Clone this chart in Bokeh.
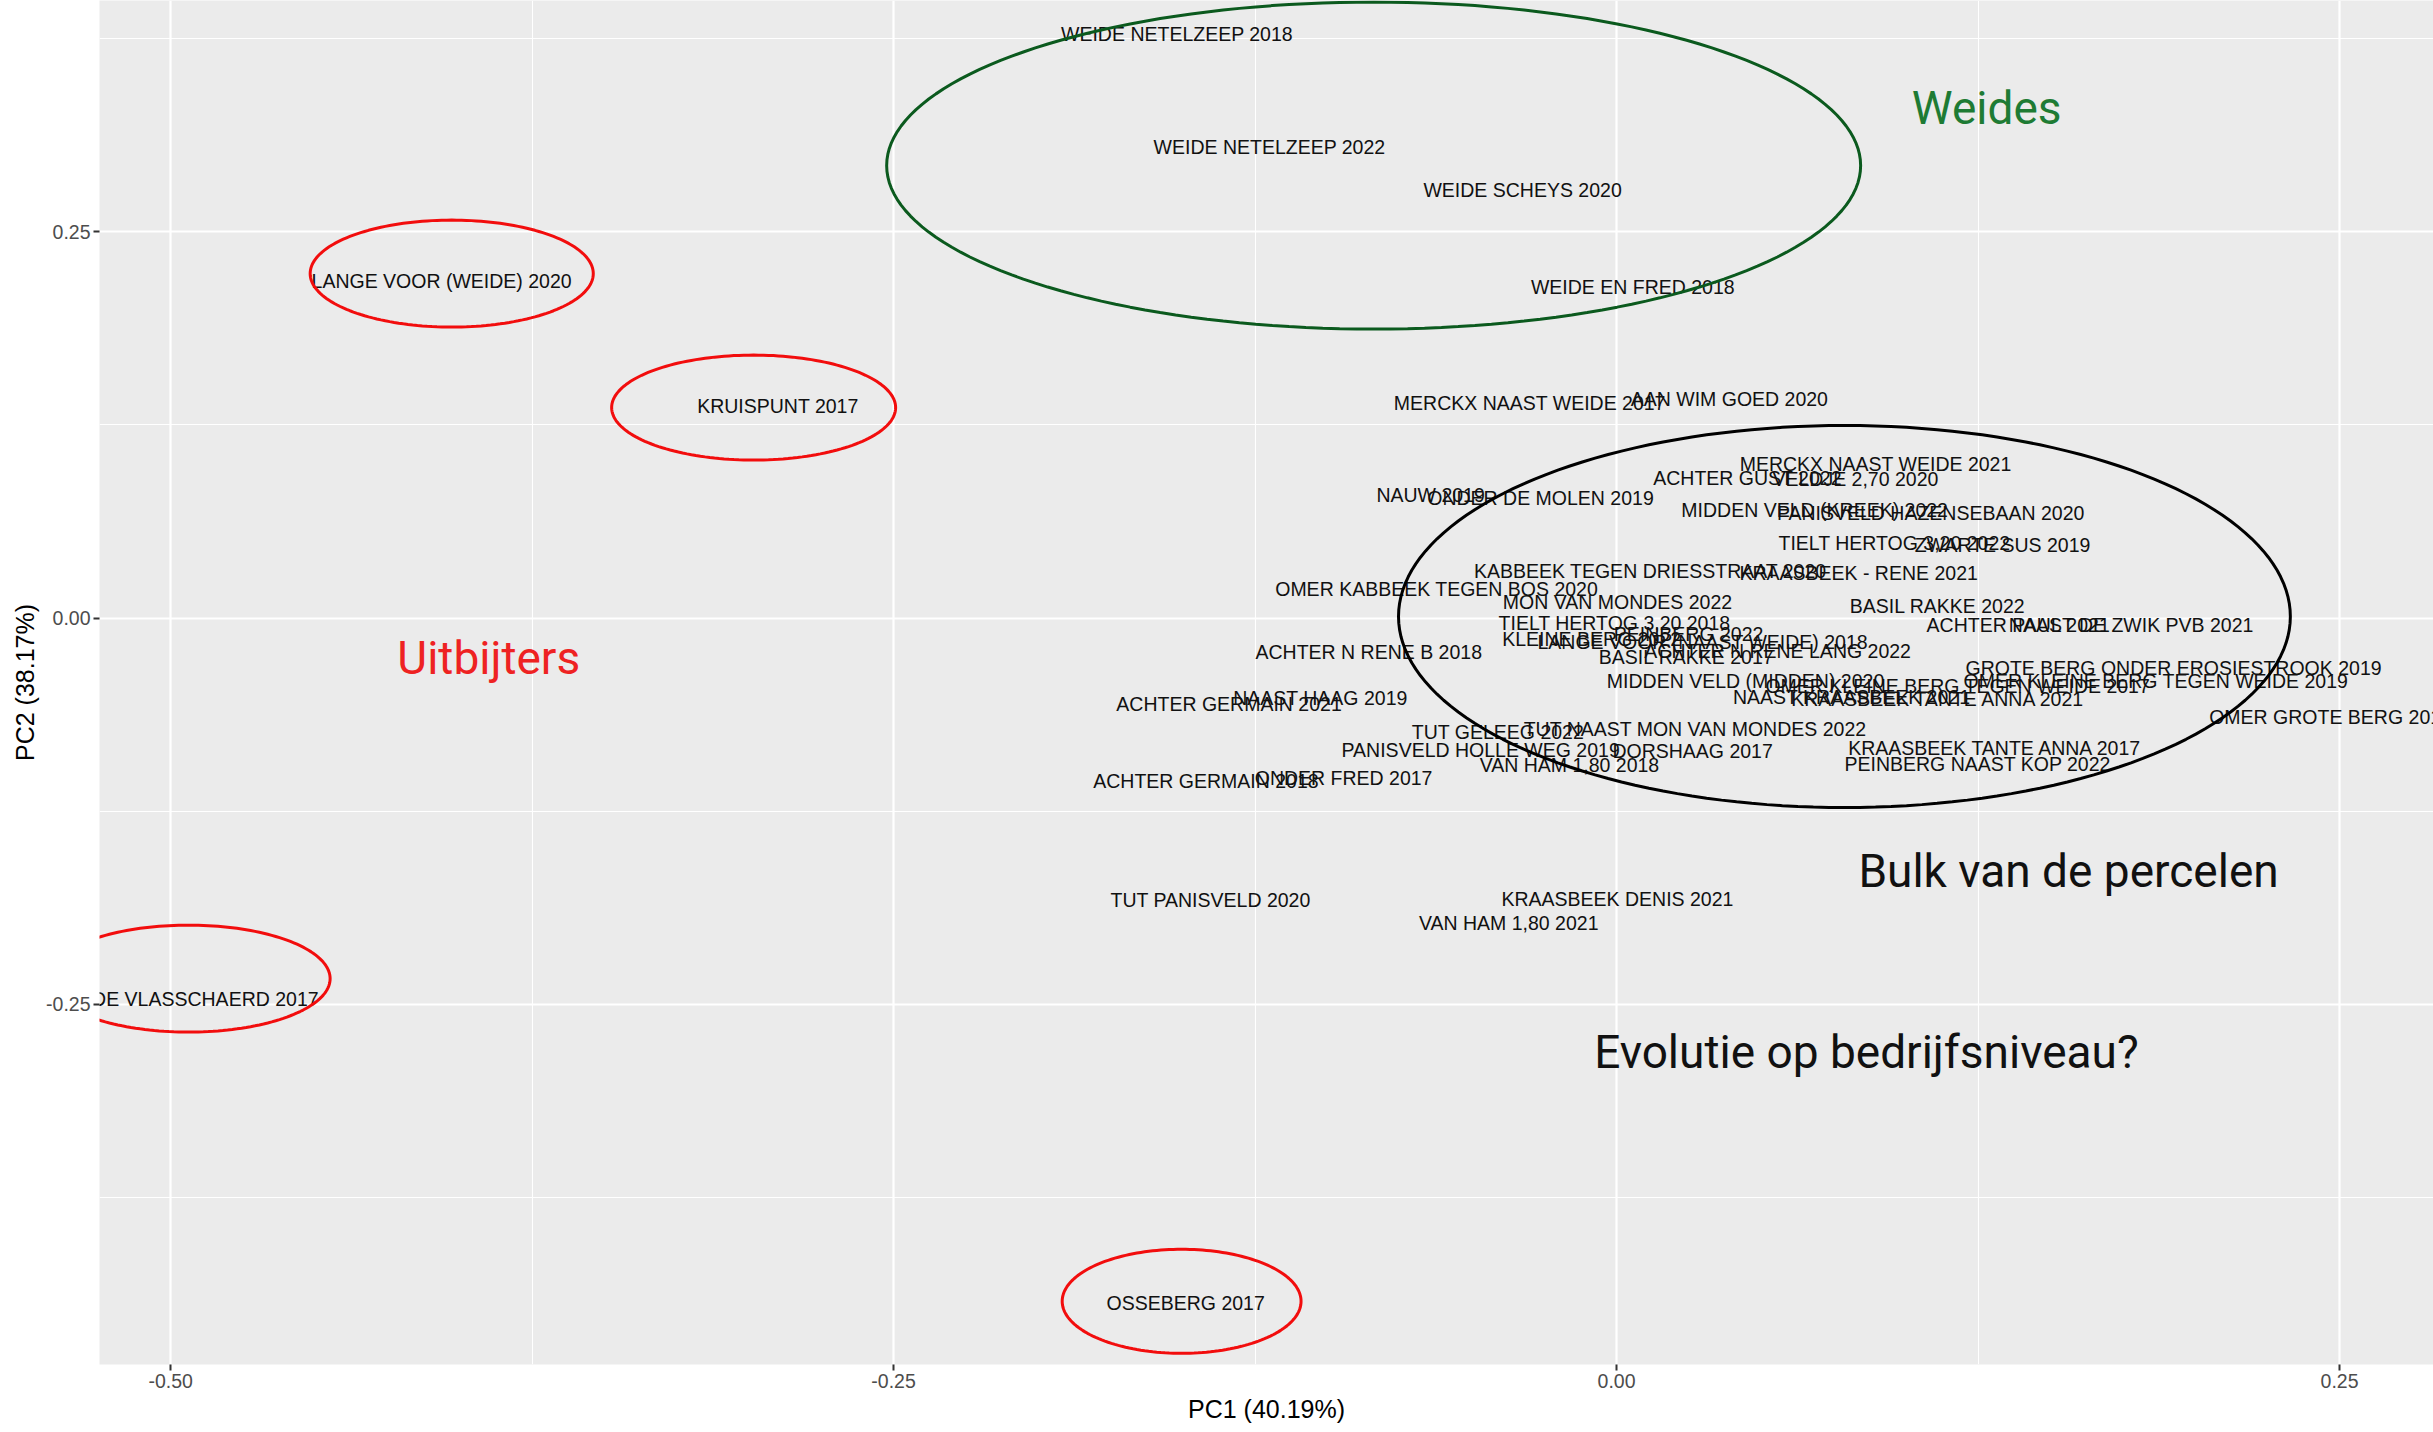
import numpy as np
from bokeh.plotting import figure
from bokeh.models import ColumnDataSource, Range1d, FixedTicker, PrintfTickFormatter, Label, PolyAnnotation
from bokeh.core.properties import value
from bokeh.embed import file_html
from bokeh.resources import INLINE

# ---- data (PCA scores) ----
labels = [
    "WEIDE NETELZEEP 2018", "WEIDE NETELZEEP 2022", "WEIDE SCHEYS 2020", "WEIDE EN FRED 2018",
    "MERCKX NAAST WEIDE 2017", "AAN WIM GOED 2020", "LANGE VOOR (WEIDE) 2020", "KRUISPUNT 2017",
    "DE VLASSCHAERD 2017", "OSSEBERG 2017", "TUT PANISVELD 2020", "KRAASBEEK DENIS 2021",
    "VAN HAM 1,80 2021", "ACHTER GERMAIN 2018", "ONDER FRED 2017", "ACHTER GERMAIN 2021",
    "NAAST HAAG 2019", "TUT GELEEG 2022", "TUT NAAST MON VAN MONDES 2022", "PANISVELD HOLLE WEG 2019",
    "DORSHAAG 2017", "VAN HAM 1,80 2018", "KRAASBEEK TANTE ANNA 2017", "PEINBERG NAAST KOP 2022",
    "OMER GROTE BERG 2019", "GROTE BERG ONDER EROSIESTROOK 2019", "OMER KLEINE BERG TEGEN WEIDE 2019",
    "OMER KLEINE BERG TEGEN WEIDE 2017", "MIDDEN VELD (MIDDEN) 2020", "KRAASBEEK TANTE ANNA 2021",
    "NAAST KRAASBEEK 2021", "KRAASBEEK - RENE 2021", "KABBEEK TEGEN DRIESSTRAAT 2020",
    "OMER KABBEEK TEGEN BOS 2020", "MON VAN MONDES 2022", "TIELT HERTOG 3,20 2018", "KLEINE BERG 2022",
    "PEINBERG 2022", "LANGE VOOR (NAAST WEIDE) 2018", "ACHTER N RENE LANG 2022", "BASIL RAKKE 2017",
    "ACHTER N RENE B 2018", "BASIL RAKKE 2022", "ACHTER PAUL 2021", "NAAST DE ZWIK PVB 2021",
    "TIELT HERTOG 3,20 2022", "ZWARTE SUS 2019", "MIDDEN VELD (KREEK) 2022", "PANISVELD HAZENSEBAAN 2020",
    "ACHTER GUST 2022", "VELDJE 2,70 2020", "MERCKX NAAST WEIDE 2021", "NAUW 2019", "ONDER DE MOLEN 2019",
]
pc1 = [
    -0.152, -0.120, -0.0325, 0.0056,
    -0.030, 0.039, -0.4063, -0.290,
    -0.488, -0.149, -0.1404, 0.0003,
    -0.0373, -0.142, -0.0944, -0.134,
    -0.1024, -0.041, 0.0272, -0.047,
    0.0263, -0.0163, 0.131, 0.1249,
    0.2469, 0.1926, 0.1865,
    0.118, 0.0446, 0.1113,
    0.0813, 0.0837, 0.0117,
    -0.0622, 0.0003, -0.0007, -0.0086,
    0.0249, 0.0298, 0.0557, 0.0242,
    -0.0857, 0.111, 0.139, 0.178,
    0.0961, 0.1335, 0.0685, 0.1086,
    0.0453, 0.0826, 0.0896, -0.0643, -0.0263,
]
pc2 = [
    0.378, 0.305, 0.277, 0.214,
    0.139, 0.142, 0.2184, 0.1375,
    -0.2468, -0.443, -0.1827, -0.1816,
    -0.197, -0.1054, -0.1032, -0.0553,
    -0.052, -0.074, -0.0716, -0.0851,
    -0.0863, -0.0954, -0.0844, -0.0942,
    -0.0639, -0.032, -0.0405,
    -0.0437, -0.041, -0.0521,
    -0.0514, 0.0289, 0.0307,
    0.0185, 0.0101, -0.0035, -0.0133,
    -0.0101, -0.0157, -0.0216, -0.0255,
    -0.0222, 0.0075, -0.0048, -0.0048,
    0.0488, 0.0471, 0.0696, 0.0683,
    0.0909, 0.090, 0.100, 0.0794, 0.078,
]

x_major = [-0.50, -0.25, 0.00, 0.25]
x_minor = [-0.375, -0.125, 0.125]
y_major = [-0.25, 0.00, 0.25]
y_minor = [-0.375, -0.125, 0.125, 0.375]

# highlighted groups (drawn as ellipses)
ell_x = [-0.084, 0.0788, -0.4028, -0.2984, -0.4938, -0.1504]
ell_y = [0.2928, 0.001, 0.2229, 0.1362, -0.2333, -0.4421]
ell_w = [0.3368, 0.3084, 0.0979, 0.0982, 0.0979, 0.0826]
ell_h = [0.2116, 0.2472, 0.0692, 0.0679, 0.0692, 0.0673]
ell_col = ["#0b5a1e", "#000000", "#f20d0d", "#f20d0d", "#f20d0d", "#f20d0d"]

p = figure(width=2433, height=1432, output_backend="svg", toolbar_location=None,
           x_range=Range1d(-0.5246, 0.2825), y_range=Range1d(-0.483, 0.3996),
           min_border_left=99, min_border_right=0, min_border_top=0, min_border_bottom=68)
p.background_fill_color = "#EBEBEB"
p.border_fill_color = "white"
p.outline_line_color = None

p.xaxis.ticker = FixedTicker(ticks=x_major, minor_ticks=x_minor)
p.yaxis.ticker = FixedTicker(ticks=y_major, minor_ticks=y_minor)
for ax in (p.xaxis, p.yaxis):
    ax.formatter = PrintfTickFormatter(format="%.2f")
    ax.axis_line_color = None
    ax.major_tick_line_color = "#333333"
    ax.major_tick_line_width = 2
    ax.major_tick_out = 6
    ax.major_tick_in = 0
    ax.minor_tick_line_color = None
    ax.major_label_text_font = "Liberation Sans"
    ax.major_label_text_font_size = "19.5px"
    ax.major_label_text_color = "#4D4D4D"
    ax.major_label_standoff = 3
    ax.axis_label_text_font = "Liberation Sans"
    ax.axis_label_text_font_size = "25px"
    ax.axis_label_text_font_style = "normal"
    ax.axis_label_text_color = "black"
    ax.axis_label_standoff = 4
p.xaxis.axis_label = "PC1 (40.19%)"
p.yaxis.axis_label = "PC2 (38.17%)"

for g in (p.xgrid, p.ygrid):
    g.grid_line_color = "white"
    g.grid_line_width = 2.2
    g.minor_grid_line_color = "white"
    g.minor_grid_line_width = 1.1

src = ColumnDataSource(dict(x=pc1, y=pc2, t=labels))
p.text(x="x", y="y", text="t", source=src, text_align="center", text_baseline="middle",
       text_font=value("Liberation Sans"), text_font_size="19.5px", text_color="#111111")

# ellipses drawn as polygon annotations
theta = np.linspace(0, 2 * np.pi, 181)
for cx, cy, w, h, c in zip(ell_x, ell_y, ell_w, ell_h, ell_col):
    p.add_layout(PolyAnnotation(xs=list(cx + w / 2 * np.cos(theta)), ys=list(cy + h / 2 * np.sin(theta)),
                                fill_color=None, fill_alpha=0, line_color=c, line_alpha=1.0,
                                line_width=3))

notes = [
    ("Weides", 0.128, 0.3303, "#1e7b34"),
    ("Uitbijters", -0.390, -0.026, "#ee2222"),
    ("Bulk van de percelen", 0.1563, -0.1636, "#111111"),
    ("Evolutie op bedrijfsniveau?", 0.0864, -0.281, "#111111"),
]
for txt, nx, ny, col in notes:
    p.add_layout(Label(x=nx, y=ny, text=txt, text_align="center", text_baseline="middle",
                       text_font="Roboto", text_font_size="46px", text_color=col))

open("out.html", "w").write(file_html(p, INLINE))
